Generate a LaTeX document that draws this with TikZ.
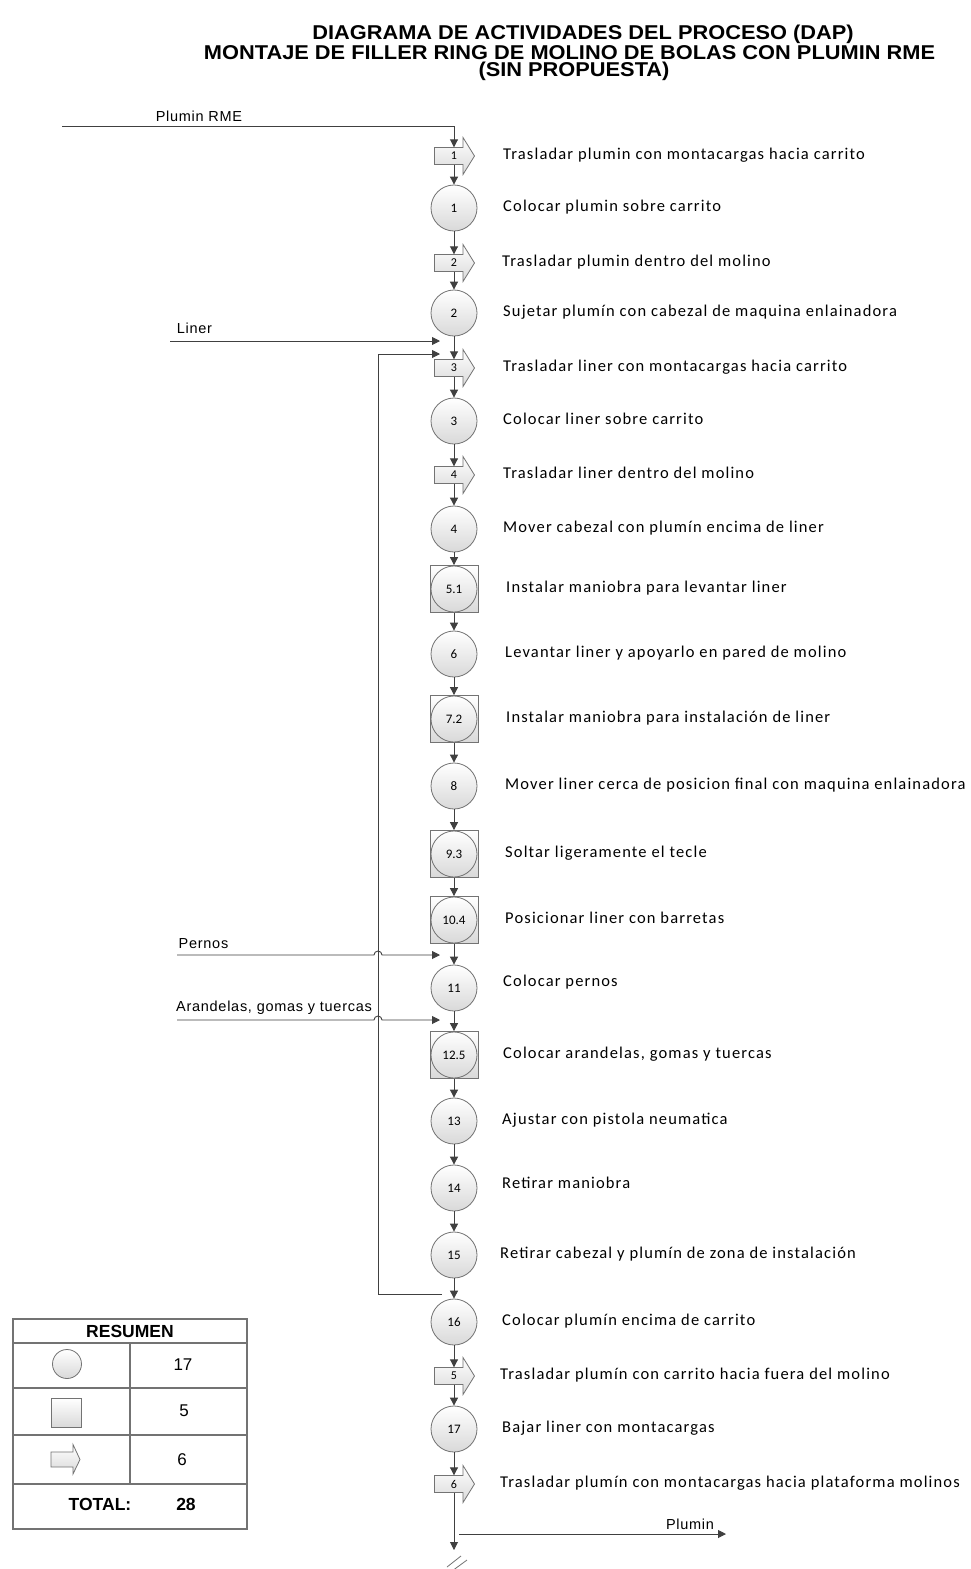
\documentclass[tikz,border=0pt]{standalone}
\usepackage{fontspec}
\usepackage{graphicx}
\setmainfont{Carlito}
\newfontfamily\labf[LetterSpace=7]{Carlito}
\newfontfamily\arf[LetterSpace=5]{Liberation Sans}
\newfontfamily\arb{Liberation Sans}
\usetikzlibrary{arrows.meta}
\pgfdeclarelayer{bg}
\pgfsetlayers{bg,main}
\newcommand{\ttlx}[1]{\scalebox{1.09}[1]{#1}}
\begin{document}
\begin{tikzpicture}[x=1pt,y=-1pt,
  gfill/.style={top color=white,bottom color=black!15,draw=black!55,line width=0.8pt},
  op/.style={circle,gfill,minimum size=46pt,inner sep=0pt,font=\fontsize{13}{13}\selectfont},
  insp/.style={rectangle,gfill,minimum width=48pt,minimum height=47pt,inner sep=0pt},
  mv/.style={rectangle,minimum width=40pt,minimum height=17pt,inner sep=0pt,font=\fontsize{12}{12}\selectfont},
  conn/.style={draw=black!75,line width=0.9pt,-{Triangle[length=8pt,width=8pt]}},
  lab/.style={anchor=west,inner sep=0pt,font={\labf\fontsize{16.5}{18}\selectfont},text height=11pt,text depth=3.5pt},
  inlab/.style={inner sep=0pt,font={\arf\fontsize{14.5}{16}\selectfont}},
  ttl/.style={inner sep=0pt,font={\arb\bfseries\fontsize{20}{20}\selectfont}},
  tline/.style={draw=black!55,line width=1.2pt},
  tnum/.style={inner sep=0pt,font={\arb\fontsize{17}{19}\selectfont}},
  tbold/.style={inner sep=0pt,font={\arb\bfseries\fontsize{17.5}{19}\selectfont}}
]
\begin{pgfonlayer}{bg}
\fill[white] (0,0) rectangle (971,1569);
\end{pgfonlayer}
\useasboundingbox (0,0) rectangle (971,1569);

% title
\node[ttl] (title1) at (583,34) {\ttlx{DIAGRAMA DE ACTIVIDADES DEL PROCESO (DAP)}};
\node[ttl] (title2) at (569.5,52.5) {\ttlx{MONTAJE DE FILLER RING DE MOLINO DE BOLAS CON PLUMIN RME}};
\node[ttl] (title3) at (574,71.5) {\ttlx{(SIN PROPUESTA)}};

% column nodes
\node[mv] (a1) at (454,156) {1};
\node[op] (c1) at (454,208) {1};
\node[mv] (a2) at (454,263) {2};
\node[op] (c2) at (454,313) {2};
\node[mv] (a3) at (454,368) {3};
\node[op] (c3) at (454,421) {3};
\node[mv] (a4) at (454,475) {4};
\node[op] (c4) at (454,529) {4};
\node[insp] (b51) at (454,589) {};
\node[op] (b51c) at (b51) {5.1};
\node[op] (c6) at (454,654) {6};
\node[insp] (b72) at (454,719) {};
\node[op] (b72c) at (b72) {7.2};
\node[op] (c8) at (454,786) {8};
\node[insp] (b93) at (454,854) {};
\node[op] (b93c) at (b93) {9.3};
\node[insp] (b104) at (454,920) {};
\node[op] (b104c) at (b104) {10.4};
\node[op] (c11) at (454,988) {11};
\node[insp] (b125) at (454,1055) {};
\node[op] (b125c) at (b125) {12.5};
\node[op] (c13) at (454,1121) {13};
\node[op] (c14) at (454,1188) {14};
\node[op] (c15) at (454,1255) {15};
\node[op] (c16) at (454,1322) {16};
\node[mv] (a5) at (454,1376) {5};
\node[op] (c17) at (454,1429) {17};
\node[mv] (a6) at (454,1484) {6};

\begin{pgfonlayer}{bg}
\foreach \n in {a1,a2,a3,a4,a5,a6}
  \draw[gfill,shift={(\n.center)}] (-19.5,-8.5) -- (9,-8.5) -- (9,-18.5) -- (20.5,0) -- (9,18.5) -- (9,8.5) -- (-19.5,8.5) -- cycle;
\end{pgfonlayer}

% labels
\node[lab] (t1) at (503,156) {Trasladar plumin con montacargas hacia carrito};
\node[lab] (t2) at (503,208) {Colocar plumin sobre carrito};
\node[lab] (t3) at (502,263) {Trasladar plumin dentro del molino};
\node[lab] (t4) at (503,313) {Sujetar plumín con cabezal de maquina enlainadora};
\node[lab] (t5) at (503,368) {Trasladar liner con montacargas hacia carrito};
\node[lab] (t6) at (503,421) {Colocar liner sobre carrito};
\node[lab] (t7) at (503,475) {Trasladar liner dentro del molino};
\node[lab] (t8) at (503,529) {Mover cabezal con plumín encima de liner};
\node[lab] (t9) at (506,589) {Instalar maniobra para levantar liner};
\node[lab] (t10) at (505,654) {Levantar liner y apoyarlo en pared de molino};
\node[lab] (t11) at (506,719) {Instalar maniobra para instalación de liner};
\node[lab] (t12) at (505,786) {Mover liner cerca de posicion final con maquina enlainadora};
\node[lab] (t13) at (505,854) {Soltar ligeramente el tecle};
\node[lab] (t14) at (505,920) {Posicionar liner con barretas};
\node[lab] (t15) at (503,983) {Colocar pernos};
\node[lab] (t16) at (503,1055) {Colocar arandelas, gomas y tuercas};
\node[lab] (t17) at (502,1121) {Ajustar con pistola neumatica};
\node[lab] (t18) at (502,1185) {Retirar maniobra};
\node[lab] (t19) at (500,1255) {Retirar cabezal y plumín de zona de instalación};
\node[lab] (t20) at (502,1322) {Colocar plumín encima de carrito};
\node[lab] (t21) at (500,1376) {Trasladar plumín con carrito hacia fuera del molino};
\node[lab] (t22) at (502,1429) {Bajar liner con montacargas};
\node[lab] (t23) at (500,1484) {Trasladar plumín con montacargas hacia plataforma molinos};

% column connectors
\foreach \p/\q in {a1/c1,c1/a2,a2/c2,c2/a3,a3/c3,c3/a4,a4/c4,c4/b51,b51/c6,c6/b72,b72/c8,c8/b93,b93/b104,b104/c11,c11/b125,b125/c13,c13/c14,c14/c15,c15/c16,c16/a5,a5/c17,c17/a6}
  \draw[conn] (\p) -- (\q);

% inputs
\coordinate (pin) at (62,126);
\draw[conn] (pin) -| (a1);
\node[inlab] (lpin) at (199,116) {Plumin RME};

\coordinate (lin0) at (170,341);
\coordinate (lin1) at (440,341);
\draw[conn] (lin0) -- (lin1);
\node[inlab] (llin) at (194.5,328) {Liner};

\coordinate (ls) at (442,1294);
\coordinate (le) at (440,354);
\draw[conn] (ls) -- (378,1294) |- (le);

\coordinate (pe0) at (177,955);
\coordinate (pe1) at (440,955);
\draw[conn] (pe0) -- (374,955) arc[start angle=180,end angle=0,radius=4pt] -- (pe1);
\node[inlab] (lpe) at (203.5,944) {Pernos};

\coordinate (ar0) at (177,1020);
\coordinate (ar1) at (440,1020);
\draw[conn] (ar0) -- (374,1020) arc[start angle=180,end angle=0,radius=4pt] -- (ar1);
\node[inlab,anchor=west] (lar) at (176,1008) {Arandelas, gomas y tuercas};

% output
\coordinate (end) at (454,1550);
\draw[conn] (a6) -- (end);
\coordinate (po0) at (459,1534);
\coordinate (po1) at (726,1534);
\draw[conn] (po0) -- (po1);
\node[inlab] (lpo) at (690,1524) {Plumin};
\draw[draw=black!55,line width=0.8pt] (447,1567) -- (461,1556) (452,1571) -- (467,1560);

% summary table
\draw[tline] (13,1319) rectangle (247,1529);
\draw[tline] (13,1343) -- (247,1343) (13,1388) -- (247,1388) (13,1435) -- (247,1435) (13,1484) -- (247,1484);
\draw[tline] (130,1343) -- (130,1484);
\node[tbold] (res) at (130,1331) {RESUMEN};
\node[circle,gfill,minimum size=29pt,inner sep=0pt] (icirc) at (67,1364) {};
\node[rectangle,gfill,minimum width=30pt,minimum height=29pt,inner sep=0pt] (isq) at (66,1413) {};
\draw[gfill] (51,1452) -- (73,1452) -- (73,1444.5) -- (80,1459.5) -- (73,1474) -- (73,1467) -- (51,1467) -- cycle;
\node[tnum] (n17) at (183,1365) {17};
\node[tnum] (n5) at (184,1411) {5};
\node[tnum] (n6) at (182,1460) {6};
\node[tbold] (ntot) at (100,1504) {TOTAL:};
\node[tbold] (n28) at (186,1504) {28};
\end{tikzpicture}
\end{document}
